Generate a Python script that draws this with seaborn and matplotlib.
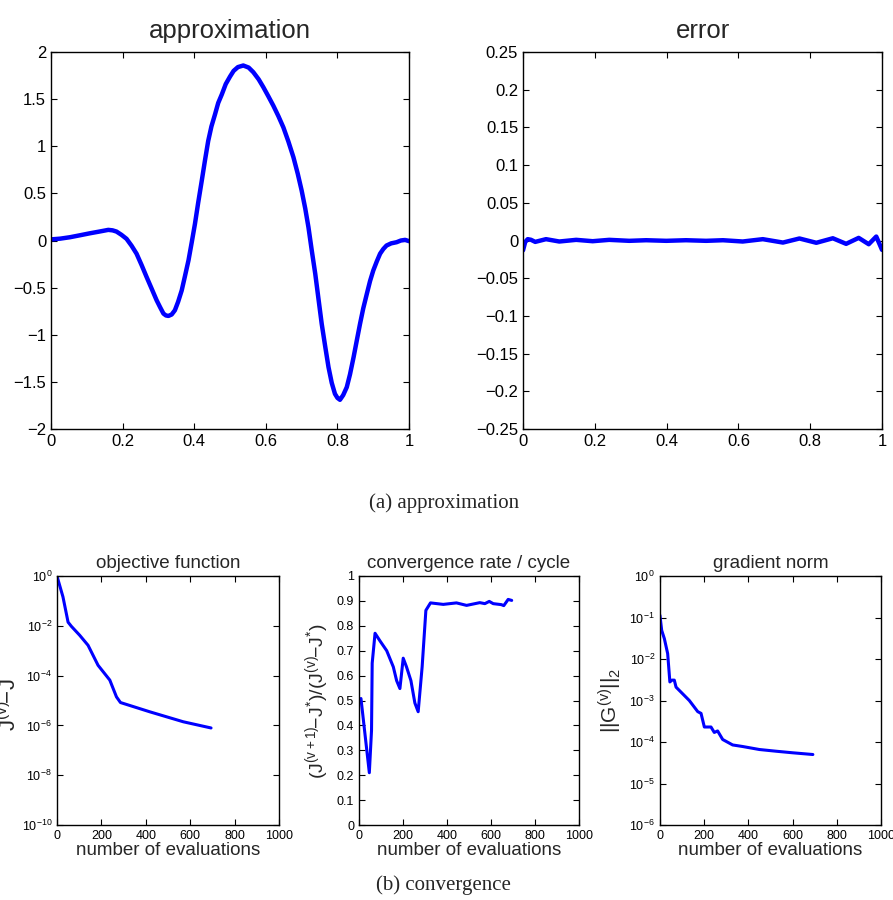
import numpy as np
import pandas as pd
import matplotlib
matplotlib.use("Agg")
import matplotlib.pyplot as plt
import seaborn as sns

# ---------------- data ----------------
approx_x = [0.0, 0.026, 0.053, 0.08, 0.109, 0.135, 0.16, 0.172, 0.183, 0.197, 0.211,
            0.225, 0.239, 0.253, 0.267, 0.281, 0.295, 0.305, 0.314, 0.321, 0.328,
            0.337, 0.346, 0.355, 0.365, 0.374, 0.384, 0.393, 0.402, 0.411, 0.421,
            0.43, 0.439, 0.448, 0.458, 0.467, 0.477, 0.488, 0.5, 0.51, 0.522, 0.537,
            0.552, 0.565, 0.58, 0.593, 0.607, 0.621, 0.635, 0.649, 0.663, 0.677,
            0.689, 0.7, 0.71, 0.719, 0.728, 0.738, 0.747, 0.756, 0.766, 0.775,
            0.784, 0.793, 0.8, 0.807, 0.816, 0.826, 0.835, 0.845, 0.854, 0.863,
            0.872, 0.882, 0.891, 0.9, 0.91, 0.919, 0.928, 0.937, 0.95, 0.965,
            0.977, 0.989, 1.0]
approx_y = [0.012, 0.02, 0.035, 0.055, 0.077, 0.095, 0.113, 0.108, 0.095, 0.06, 0.018,
            -0.055, -0.14, -0.26, -0.387, -0.51, -0.634, -0.71, -0.775, -0.795, -0.80,
            -0.785, -0.74, -0.65, -0.53, -0.38, -0.21, -0.02, 0.176, 0.40, 0.634,
            0.85, 1.056, 1.21, 1.338, 1.46, 1.55, 1.66, 1.74, 1.80, 1.84, 1.857,
            1.835, 1.786, 1.71, 1.627, 1.53, 1.43, 1.32, 1.20, 1.05, 0.884,
            0.71, 0.53, 0.34, 0.14, -0.1, -0.354, -0.62, -0.884, -1.13, -1.344,
            -1.51, -1.627, -1.67, -1.69, -1.64, -1.556, -1.42, -1.238, -1.06, -0.884,
            -0.72, -0.566, -0.43, -0.318, -0.22, -0.14, -0.09, -0.053, -0.03, -0.018,
            0.0, 0.007, -0.007]

error_x = [0.0, 0.006, 0.013, 0.022, 0.034, 0.064, 0.101, 0.148, 0.194, 0.24, 0.296,
           0.343, 0.399, 0.454, 0.51, 0.557, 0.612, 0.668, 0.724, 0.77, 0.817,
           0.863, 0.9, 0.935, 0.963, 0.984, 1.0]
error_y = [-0.013, -0.002, 0.0018, 0.001, -0.0018, 0.0018, -0.0013, 0.0009, -0.0009,
           0.0009, -0.0004, 0.0004, -0.0004, 0.0004, -0.0004, 0.0004, -0.0013,
           0.0018, -0.0027, 0.0027, -0.003, 0.003, -0.0044, 0.0035, -0.0049,
           0.0053, -0.0124]

obj_evals = [0, 27, 50, 65, 102, 140, 185, 238, 268, 286, 419, 569, 694]
obj_vals = [1.0, 1.45e-1, 1.4e-2, 9.5e-3, 4.2e-3, 1.65e-3, 2.6e-4, 6.6e-5,
            1.4e-5, 8.3e-6, 3.5e-6, 1.4e-6, 7.9e-7]

rate_evals = [9, 47, 57, 60, 73, 95, 126, 156, 171, 186, 201, 216, 236, 254, 269,
              287, 304, 325, 383, 443, 489, 549, 572, 592, 610, 647, 658, 678, 694]
rate_vals = [0.508, 0.21, 0.38, 0.65, 0.77, 0.74, 0.70, 0.635, 0.58, 0.548, 0.67,
             0.635, 0.58, 0.49, 0.455, 0.635, 0.862, 0.892, 0.886, 0.892, 0.882,
             0.893, 0.889, 0.898, 0.889, 0.885, 0.881, 0.906, 0.902]

grad_evals = [0, 8, 20, 35, 45, 54, 65, 73, 95, 133, 171, 186, 201, 231, 246, 261,
              284, 329, 374, 450, 526, 601, 692]
grad_vals = [1.13e-1, 4.9e-2, 3.1e-2, 1.35e-2, 2.8e-3, 3.1e-3, 3.1e-3, 2.1e-3,
             1.6e-3, 1.0e-3, 5.4e-4, 4.9e-4, 2.3e-4, 2.3e-4, 1.7e-4, 1.85e-4,
             1.15e-4, 8.5e-5, 7.8e-5, 6.6e-5, 6.0e-5, 5.5e-5, 5.0e-5]

# ---------------- style ----------------
sns.set_theme(style="ticks")
plt.rcParams['font.family'] = ['Liberation Sans', 'DejaVu Sans']
plt.rcParams['mathtext.fontset'] = 'custom'
plt.rcParams['mathtext.rm'] = 'Liberation Sans'
plt.rcParams['mathtext.it'] = 'Liberation Sans'
plt.rcParams['mathtext.bf'] = 'Liberation Sans:bold'
plt.rcParams['axes.unicode_minus'] = True

BLUE = "#0000ff"
fig = plt.figure(figsize=(8.93, 9.0), dpi=100)


def matlab_axes(ax, fs):
    for s in ax.spines.values():
        s.set_linewidth(1.0)
        s.set_color("black")
    ax.tick_params(direction="in", top=True, right=True, length=4, width=0.8,
                   labelsize=fs, colors="black", which="major")
    ax.tick_params(which="minor", length=0)
    ax.grid(False)


# top-left: approximation
ax1 = fig.add_axes([0.0571, 0.5233, 0.401, 0.4189])
sns.lineplot(x=approx_x, y=approx_y, ax=ax1, color=BLUE, linewidth=3.2, sort=False)
ax1.set_xlim(0, 1)
ax1.set_ylim(-2, 2)
ax1.set_xticks(np.arange(0, 1.01, 0.2))
ax1.set_xticklabels(["0", "0.2", "0.4", "0.6", "0.8", "1"])
ax1.set_yticks(np.arange(-2, 2.01, 0.5))
ax1.set_yticklabels(["\u22122", "\u22121.5", "\u22121", "\u22120.5", "0", "0.5", "1", "1.5", "2"])
ax1.set_title("approximation", fontsize=18.5, pad=10)
matlab_axes(ax1, 12)

# top-right: error
ax2 = fig.add_axes([0.5857, 0.5233, 0.402, 0.4189])
sns.lineplot(x=error_x, y=error_y, ax=ax2, color=BLUE, linewidth=3.2, sort=False)
ax2.set_xlim(0, 1)
ax2.set_ylim(-0.25, 0.25)
ax2.set_xticks(np.arange(0, 1.01, 0.2))
ax2.set_xticklabels(["0", "0.2", "0.4", "0.6", "0.8", "1"])
yt = [-0.25, -0.2, -0.15, -0.1, -0.05, 0, 0.05, 0.1, 0.15, 0.2, 0.25]
ax2.set_yticks(yt)
ax2.set_yticklabels(["\u22120.25", "\u22120.2", "\u22120.15", "\u22120.1", "\u22120.05",
                     "0", "0.05", "0.1", "0.15", "0.2", "0.25"])
ax2.set_title("error", fontsize=18.5, pad=10)
matlab_axes(ax2, 12)

fig.text(0.497, 1 - 503 / 900, "(a) approximation", ha="center", va="center",
         fontsize=15, family=["Liberation Serif", "DejaVu Serif"])

# bottom-left: objective function
ax3 = fig.add_axes([0.0638, 0.0833, 0.2486, 0.2767])
sns.lineplot(x=obj_evals, y=obj_vals, ax=ax3, color=BLUE, linewidth=2.2, sort=False)
ax3.set_yscale("log")
ax3.set_xlim(0, 1000)
ax3.set_ylim(1e-10, 1e0)
ax3.set_yticks([1e-10, 1e-8, 1e-6, 1e-4, 1e-2, 1e0])
ax3.set_yticklabels([r"$10^{-10}$", r"$10^{-8}$", r"$10^{-6}$", r"$10^{-4}$",
                     r"$10^{-2}$", r"$10^{0}$"])
ax3.set_xticks([0, 200, 400, 600, 800, 1000])
ax3.set_title("objective function", fontsize=13.5, pad=6)
ax3.set_xlabel("number of evaluations", fontsize=13.5, labelpad=0)
ax3.set_ylabel(r"$\mathrm{J^{(v)}\!\!-\!J^{*}}$", fontsize=16, labelpad=0)
matlab_axes(ax3, 9)

# bottom-middle: convergence rate
ax4 = fig.add_axes([0.402, 0.0833, 0.2464, 0.2767])
sns.lineplot(x=rate_evals, y=rate_vals, ax=ax4, color=BLUE, linewidth=2.2, sort=False)
ax4.set_xlim(0, 1000)
ax4.set_ylim(0, 1)
ax4.set_yticks(np.arange(0, 1.01, 0.1))
ax4.set_yticklabels(["0", "0.1", "0.2", "0.3", "0.4", "0.5", "0.6", "0.7", "0.8", "0.9", "1"])
ax4.set_xticks([0, 200, 400, 600, 800, 1000])
ax4.set_title("convergence rate / cycle", fontsize=13.5, pad=6)
ax4.set_xlabel("number of evaluations", fontsize=13.5, labelpad=0)
ax4.set_ylabel(r"$\mathrm{(J^{(v+1)}\!\!-\!J^{*})/(J^{(v)}\!\!-\!J^{*})}$", fontsize=14, labelpad=4)
matlab_axes(ax4, 9)

# bottom-right: gradient norm
ax5 = fig.add_axes([0.739, 0.0833, 0.2475, 0.2767])
sns.lineplot(x=grad_evals, y=grad_vals, ax=ax5, color=BLUE, linewidth=2.2, sort=False)
ax5.set_yscale("log")
ax5.set_xlim(0, 1000)
ax5.set_ylim(1e-6, 1e0)
ax5.set_yticks([1e-6, 1e-5, 1e-4, 1e-3, 1e-2, 1e-1, 1e0])
ax5.set_yticklabels([r"$10^{-6}$", r"$10^{-5}$", r"$10^{-4}$", r"$10^{-3}$",
                     r"$10^{-2}$", r"$10^{-1}$", r"$10^{0}$"])
ax5.set_xticks([0, 200, 400, 600, 800, 1000])
ax5.set_title("gradient norm", fontsize=13.5, pad=6)
ax5.set_xlabel("number of evaluations", fontsize=13.5, labelpad=0)
ax5.set_ylabel(r"$\mathrm{||G^{(v)}||_{2}}$", fontsize=15, labelpad=4)
matlab_axes(ax5, 9)

fig.text(0.497, 1 - 885 / 900, "(b) convergence", ha="center", va="center",
         fontsize=15, family=["Liberation Serif", "DejaVu Serif"])

fig.savefig("out.png", dpi=100)
